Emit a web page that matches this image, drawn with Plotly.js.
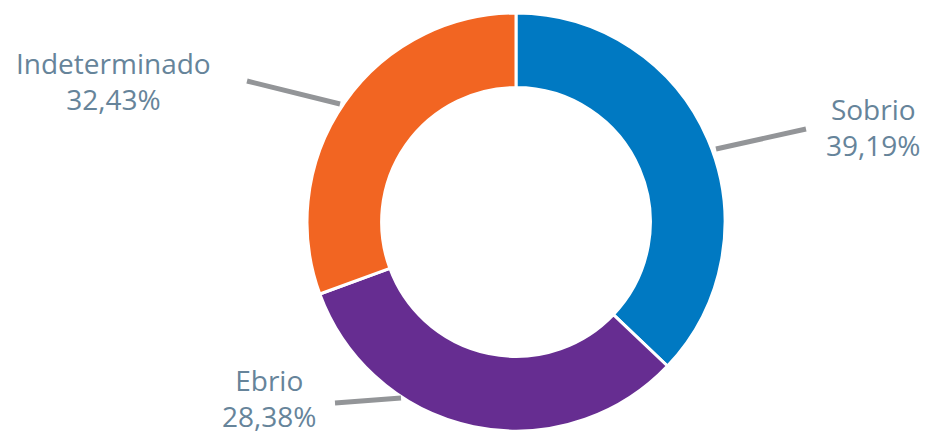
<!DOCTYPE html>
<html><head><meta charset="utf-8">
<script src="https://cdn.plot.ly/plotly-3.0.1.min.js"></script>
<style>html,body{margin:0;padding:0;background:#fff}#c{width:930px;height:435px}</style>
</head><body><div id="c"></div>
<script>
var labels = ["Sobrio", "Ebrio", "Indeterminado"];
// printed percentages (as shown on the chart)
var pctText = ["39,19%", "28,38%", "32,43%"];
// slice sizes as drawn in the picture (share of the ring)
var values = [37.1, 32.3, 30.6];
var colors = ["#0079C2", "#662D91", "#F26522"];

var W = 930, H = 435;
function px(x){return x / W;}
function py(y){return 1 - y / H;}

// label centers (x) and vertical middle between the two baselines (pixels)
var labelX = [873, 269, 113];
var labelMidBase = [137, 408, 91];
var leaders = [[[716,149],[806,129]], [[401,398],[335,403]], [[340,104],[247,81]]];

var FS = 28, FONT = {family:'Open Sans', size:FS, color:'#66849A'};
var annotations = labels.map(function(l, i){
  return {x: px(labelX[i]), y: py(labelMidBase[i] - 0.36*FS), xref:'paper', yref:'paper',
    xanchor:'center', yanchor:'middle', showarrow:false, align:'center',
    text: l + '<br>' + pctText[i], font:FONT};
});
var shapes = leaders.map(function(s){
  return {type:'line', xref:'paper', yref:'paper',
    x0:px(s[0][0]), y0:py(s[0][1]), x1:px(s[1][0]), y1:py(s[1][1]),
    line:{color:'#939598', width:5}};
});

var trace = {
  type:'pie', labels:labels, values:values, hole:0.643, sort:false,
  direction:'clockwise', rotation:0, textinfo:'none', hoverinfo:'label',
  marker:{colors:colors, line:{color:'#ffffff', width:3}},
  domain:{x:[px(307), px(725)], y:[py(431), py(13)]}
};
Plotly.newPlot('c', [trace], {
  width:W, height:H, margin:{l:0,r:0,t:0,b:0}, showlegend:false,
  paper_bgcolor:'#fff', annotations:annotations, shapes:shapes
}, {displayModeBar:false, staticPlot:true});
</script></body></html>
